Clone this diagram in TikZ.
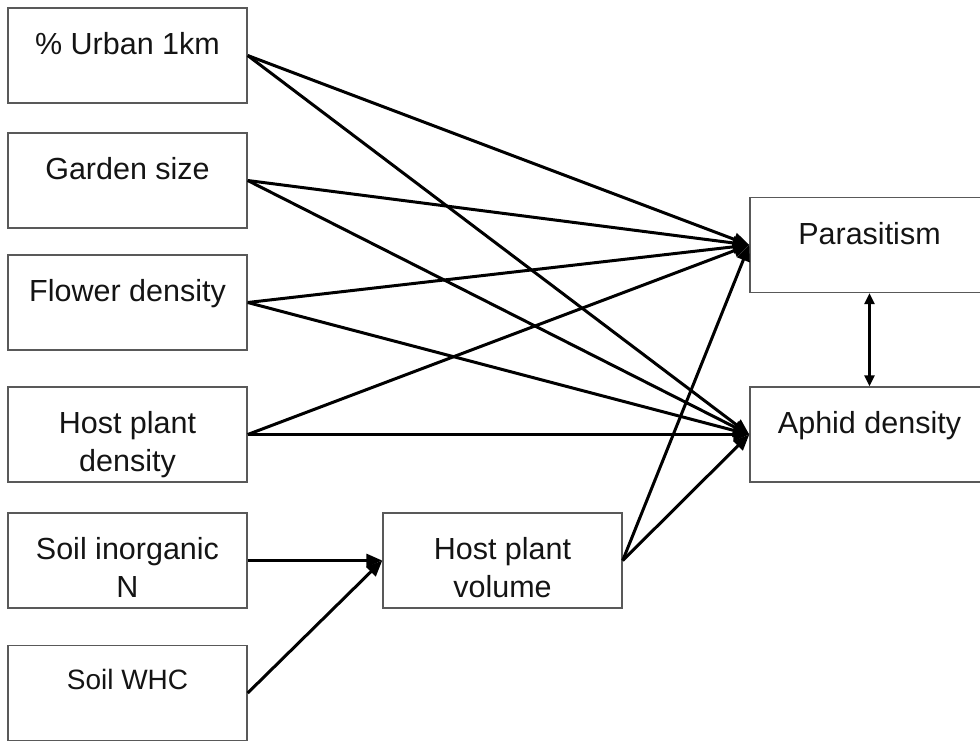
\documentclass[tikz,border=0pt]{standalone}
\usepackage{fontspec}
\setmainfont{Liberation Sans}
\usetikzlibrary{arrows.meta}

\begin{document}
\begin{tikzpicture}[x=1pt, y=-1pt,
      box/.style={draw=black!65, line width=1.4pt, minimum width=239pt,
                  minimum height=95pt, inner sep=0pt},
      txt/.style={anchor=north, yshift=-25pt, inner sep=0pt, align=center,
                  text=black!92, font=\fontsize{30.5}{38}\selectfont},
      small/.style={txt, yshift=1pt, font=\fontsize{28}{36}\selectfont},
      link/.style={->, line width=3pt},
      both/.style={{Triangle[length=11pt,width=10pt]}-{Triangle[length=11pt,width=10pt]},
                   line width=2.5pt},
      >={Triangle[length=16pt,width=13pt]}]

    \useasboundingbox (0,0) rectangle (980,740);

    % predictors on the left
    \node[box, label={[txt]north:{\% Urban 1km}}] (urban) at (127.5,55.5) {};
    \node[box, label={[txt]north:{Garden size}}] (garden) at (127.5,180.5) {};
    \node[box, label={[txt]north:{Flower density}}] (flower) at (127.5,302.5) {};
    \node[box, label={[txt]north:{Host plant\\density}}] (hostden) at (127.5,434.5) {};
    \node[box, label={[txt]north:{Soil inorganic\\N}}] (soiln) at (127.5,560.5) {};
    \node[box, label={[small]north:{Soil WHC}}] (whc) at (127.5,693) {};

    % intermediate and responses
    \node[box, label={[txt]north:{Host plant\\volume}}] (volume) at (502.5,560.5) {};
    \node[box, label={[txt]north:{Parasitism}}] (para) at (869.5,245) {};
    \node[box, label={[txt]north:{Aphid density}}] (aphid) at (869.5,434.5) {};

    \foreach \src in {urban,garden,flower,hostden,volume} {
      \draw[link] (\src.east) -- (para.west);
      \draw[link] (\src.east) -- (aphid.west);
    }
    \draw[link] (soiln.east) -- (volume.west);
    \draw[link] (whc.east) -- (volume.west);

    \draw[both] (para.south) -- (aphid.north);
  \end{tikzpicture}
\end{document}
